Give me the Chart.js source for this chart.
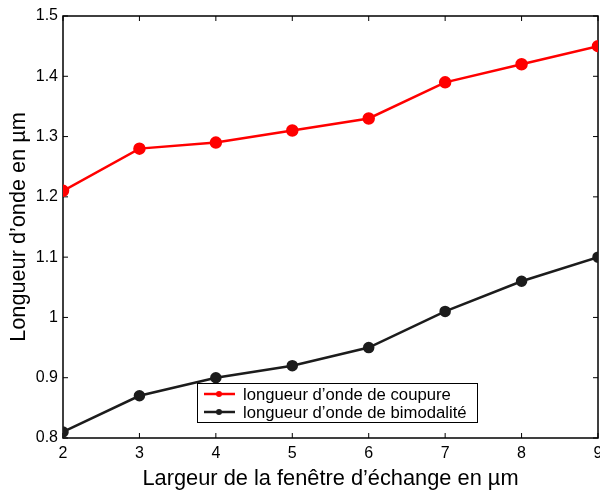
<!DOCTYPE html>
<html>
<head>
<meta charset="utf-8">
<script src="https://cdn.jsdelivr.net/npm/chart.js@4/dist/chart.umd.min.js"></script>
<style>
  html, body { margin: 0; padding: 0; background: #fff; }
  #wrap { width: 600px; height: 490px; }
</style>
</head>
<body>
<div id="wrap"><canvas id="chart" width="600" height="490"></canvas></div>
<script>
// data
const widths = [2, 3, 4, 5, 6, 7, 8, 9];
const cutoff = [1.21, 1.28, 1.29, 1.31, 1.33, 1.39, 1.42, 1.45];
const bimodal = [0.81, 0.87, 0.90, 0.92, 0.95, 1.01, 1.06, 1.10];
const seriesNames = ['longueur d\u2019onde de coupure', 'longueur d\u2019onde de bimodalit\u00e9'];
const xTitle = 'Largeur de la fen\u00eatre d\u2019\u00e9change en \u00b5m';
const yTitle = 'Longueur d\u2019onde en \u00b5m';

const FONT = '"Liberation Sans", Arial, Helvetica, sans-serif';
const RED = '#ff0000';
const DARK = '#1c1c1c';

function pts(ys) {
    return widths.map((x, i) => ({ x: x, y: ys[i] }));
}

// box around the plot with small inward ticks on all four sides
const framePlugin = {
    id: 'frame',
    beforeDatasetsDraw(chart) {
        const { ctx, chartArea: a, scales } = chart;
        ctx.save();
        ctx.strokeStyle = '#000';
        ctx.lineWidth = 1.5;
        ctx.strokeRect(a.left, a.top, a.right - a.left, a.bottom - a.top);
        ctx.lineWidth = 1;
        const t = 5;
        scales.x.ticks.forEach(tk => {
            const px = scales.x.getPixelForValue(tk.value);
            ctx.beginPath();
            ctx.moveTo(px, a.bottom); ctx.lineTo(px, a.bottom - t);
            ctx.moveTo(px, a.top); ctx.lineTo(px, a.top + t);
            ctx.stroke();
        });
        scales.y.ticks.forEach(tk => {
            const py = scales.y.getPixelForValue(tk.value);
            ctx.beginPath();
            ctx.moveTo(a.left, py); ctx.lineTo(a.left + t, py);
            ctx.moveTo(a.right, py); ctx.lineTo(a.right - t, py);
            ctx.stroke();
        });
        ctx.restore();
    },
    afterDraw(chart) {
        // legend box inside the plot, bottom middle
        const { ctx } = chart;
        const bx = 197, by = 383, bw = 280, bh = 39;
        ctx.save();
        ctx.fillStyle = '#fff';
        ctx.fillRect(bx, by, bw, bh);
        ctx.strokeStyle = '#000';
        ctx.lineWidth = 1;
        ctx.strokeRect(bx + 0.5, by + 0.5, bw, bh);
        ctx.font = '16.7px ' + FONT;
        ctx.textBaseline = 'middle';
        chart.data.datasets.forEach((ds, i) => {
            const y = by + 11 + i * 18;
            ctx.strokeStyle = ds.borderColor;
            ctx.lineWidth = 2.5;
            ctx.beginPath();
            ctx.moveTo(bx + 7, y); ctx.lineTo(bx + 38, y);
            ctx.stroke();
            ctx.fillStyle = ds.borderColor;
            ctx.beginPath();
            ctx.arc(bx + 22, y, 3, 0, Math.PI * 2);
            ctx.fill();
            ctx.fillStyle = '#000';
            ctx.fillText(ds.label, bx + 46, y + 1);
        });
        ctx.restore();
    }
};

const ctx = document.getElementById('chart').getContext('2d');
new Chart(ctx, {
    type: 'line',
    data: {
        datasets: [
            {
                label: seriesNames[0],
                data: pts(cutoff),
                borderColor: RED,
                backgroundColor: RED,
                borderWidth: 2.5,
                pointRadius: 5,
                pointHoverRadius: 5,
                tension: 0
            },
            {
                label: seriesNames[1],
                data: pts(bimodal),
                borderColor: DARK,
                backgroundColor: DARK,
                borderWidth: 2.5,
                pointRadius: 4.5,
                pointHoverRadius: 4.5,
                tension: 0
            }
        ]
    },
    options: {
        responsive: false,
        animation: false,
        events: [],
        layout: { autoPadding: false, padding: { top: 16, right: 2, left: 0, bottom: 0 } },
        plugins: {
            legend: { display: false },
            tooltip: { enabled: false }
        },
        scales: {
            x: {
                type: 'linear',
                min: 2,
                max: 9,
                ticks: {
                    stepSize: 1,
                    padding: 6,
                    color: '#000',
                    font: { family: FONT, size: 16 }
                },
                grid: { display: false, drawTicks: false },
                border: { display: false },
                title: {
                    display: true,
                    text: xTitle,
                    color: '#000',
                    font: { family: FONT, size: 21.8, lineHeight: 1 },
                    padding: { top: 4, bottom: 0 }
                },
                afterFit(scale) {
                    scale.paddingRight = 0;
                    scale.paddingLeft = 0;
                    scale.height = 52;
                }
            },
            y: {
                min: 0.8,
                max: 1.5,
                ticks: {
                    stepSize: 0.1,
                    padding: 5,
                    color: '#000',
                    font: { family: FONT, size: 16 },
                    callback: v => String(Number(v.toFixed(1)))
                },
                grid: { display: false, drawTicks: false },
                border: { display: false },
                title: {
                    display: true,
                    text: yTitle,
                    color: '#000',
                    font: { family: FONT, size: 21.7 },
                    padding: { top: 6, bottom: 2 }
                },
                afterFit(scale) {
                    scale.width = 63;
                }
            }
        }
    },
    plugins: [framePlugin]
});
</script>
</body>
</html>
